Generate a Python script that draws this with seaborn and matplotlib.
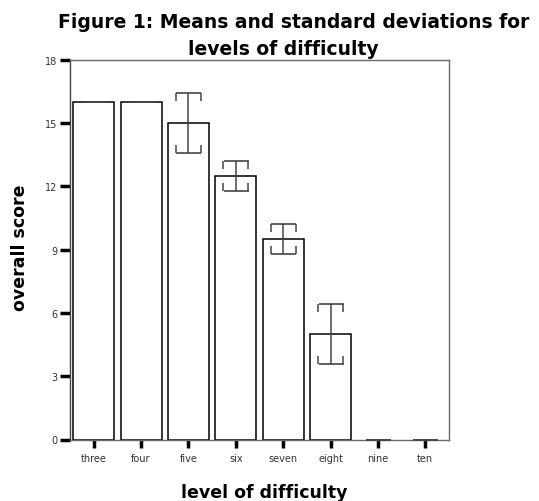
import matplotlib
matplotlib.use("Agg")
import matplotlib.pyplot as plt
import seaborn as sns
import pandas as pd
import numpy as np

levels = ["three", "four", "five", "six", "seven", "eight", "nine", "ten"]
means = [16.0, 16.0, 15.0, 12.5, 9.5, 5.0, 0.0, 0.0]
sds = [0.0, 0.0, 1.41, 0.71, 0.71, 1.41, 0.0, 0.0]
yticks = [0, 3, 6, 9, 12, 15, 18]

sns.set_theme(style="white")
plt.rcParams['font.family'] = ['DejaVu Sans']

df = pd.DataFrame({"level": levels, "score": means, "sd": sds})

W, H = 539, 502
fig = plt.figure(figsize=(W / 100, H / 100), dpi=100)
ax = fig.add_axes([70 / W, 1 - 440.5 / H, (449 - 70) / W, (440.5 - 60.7) / H])

sns.barplot(data=df, x="level", y="score", order=levels, errorbar=None,
            color="white", edgecolor="black", linewidth=1.1, width=0.865, ax=ax)
for p in ax.patches:
    if p.get_height() == 0:
        p.set_linewidth(0)

xs = np.arange(len(levels))
m = np.array(means)
s = np.array(sds)
ecol = "#454545"
ax.errorbar(xs, m, yerr=s, fmt="none", ecolor=ecol, elinewidth=1.1,
            capsize=9, capthick=1.2, zorder=5)

# bracket tips on caps
capw = 0.262
tip = 0.38
mask = s > 0
for sign in (-1, 1):
    ax.vlines(xs[mask] + sign * capw, m[mask] + s[mask] - tip, m[mask] + s[mask],
              color=ecol, linewidth=1.1, zorder=5)
    ax.vlines(xs[mask] + sign * capw, m[mask] - s[mask], m[mask] - s[mask] + tip,
              color=ecol, linewidth=1.1, zorder=5)

ax.set_xlim(-0.5, len(levels) - 0.5)
ax.set_ylim(0, 18)
ax.set_yticks(yticks)
ax.set_yticklabels([str(v) for v in yticks])
ax.set_xlabel("")
ax.set_ylabel("")

for sp in ax.spines.values():
    sp.set_visible(True)
    sp.set_color("#6a6a6a")
    sp.set_linewidth(1.0)
ax.spines["left"].set_color("#444444")

ax.tick_params(axis="y", direction="out", length=7, width=2.5, color="black",
               labelsize=7, pad=2, left=True, labelcolor="#333333")
ax.tick_params(axis="x", direction="out", length=6, width=2.5, color="black",
               labelsize=7, pad=4, bottom=True, labelcolor="#333333")

fig.text(58 / W, 1 - 27.5 / H, "Figure 1: Means and standard deviations for",
         ha="left", va="baseline", fontsize=13.5, fontweight="bold", color="black")
fig.text(283 / W, 1 - 55 / H, "levels of difficulty",
         ha="center", va="baseline", fontsize=13.5, fontweight="bold", color="black")
fig.text(20 / W, 1 - 248 / H, "overall score", rotation=90,
         ha="center", va="center", fontsize=12.5, fontweight="bold", color="black")
fig.text(264 / W, 1 - 498 / H, "level of difficulty",
         ha="center", va="baseline", fontsize=12.5, fontweight="bold", color="black")

fig.savefig("out.png", dpi=100, facecolor="white")
